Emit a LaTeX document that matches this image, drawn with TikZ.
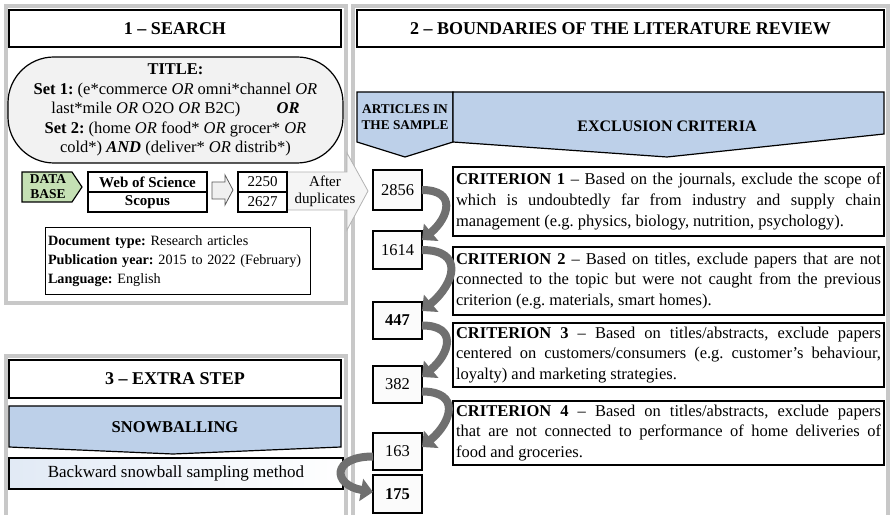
\documentclass[tikz,border=0pt]{standalone}
\usepackage{fontspec}
\setmainfont{Liberation Serif}
\usetikzlibrary{arrows.meta}
\definecolor{bannerblue}{RGB}{189,208,233}
\definecolor{dbgreen}{RGB}{197,224,180}
\definecolor{framegray}{RGB}{200,200,200}
\definecolor{arrgray}{RGB}{112,112,112}
\definecolor{titlegray}{RGB}{242,242,242}
\tolerance=10000
\hbadness=10000
\frenchspacing
\begin{document}
\begin{tikzpicture}[x=1pt,y=1pt]
\tikzset{ >=latex, inner sep=0pt, outer sep=0pt,
  frame/.style={draw=framegray, line width=4pt},
  head/.style={draw, line width=1.8pt, fill=white, minimum height=37, font=\fontsize{18}{21}\selectfont\bfseries},
  numbox/.style={draw, line width=1.4pt, fill=gray!3, minimum width=49, minimum height=37, font=\fontsize{16.5}{20}\selectfont},
  crit/.style={draw, line width=1.6pt, fill=white, text width=425, inner xsep=3, align=justify, font=\fontsize{16.5}{20.7}\selectfont},
  cell/.style={draw, line width=1.2pt, minimum height=20, font=\fontsize{15}{17}\selectfont},
  banner/.style={draw, line width=1.2pt, fill=bannerblue},
  curv/.style={line width=8pt, draw=arrgray, -{Triangle[length=12pt,width=22pt]}},
}
\useasboundingbox (0,0) rectangle (891,514);
%\draw [lightgray, dashed] (0,0) grid [step=50] (891,514);

\draw [frame] (6,211) rectangle (346,508);
\draw [frame] (353,-5) |- (888,508) -- (888,-5);
\draw [frame] (6,-5) |- (346,158) -- (346,-5);

\node [head, minimum width=332] (SEARCH) at (175,485.5) {1 -- SEARCH};
\node [head, minimum width=527] (BOUND) at (620.5,485.5) {2 -- BOUNDARIES OF THE LITERATURE REVIEW};
\node [head, minimum width=332, minimum height=38] (EXTRA) at (175,135) {3 -- EXTRA STEP};

\node [draw, line width=1.2pt, fill=titlegray, rounded corners=46, minimum width=335, minimum height=106,
       align=center, font=\fontsize{16.5}{19.5}\selectfont] (TITLE) at (175.5,404)
  {\textbf{TITLE:}\\
   \textbf{Set 1:} (e*commerce \textit{OR} omni*channel \textit{OR}\\
   last*mile \textit{OR} O2O \textit{OR} B2C)\hspace{2.2em}\textbf{\textit{OR}}\\
   \textbf{Set 2:} (home \textit{OR} food* \textit{OR} grocer* \textit{OR}\\
   cold*) \textbf{\textit{AND}} (deliver* \textit{OR} distrib*)};

\draw [line width=1.2pt, fill=dbgreen] (22,342) -- (72,342) -- (82,327) -- (72,312) -- (22,312) -- cycle;
\node [align=center, font=\fontsize{13.5}{15}\selectfont\bfseries] (DB) at (48,327) {DATA\\BASE};

\node [cell, minimum width=119, font=\fontsize{15}{17}\selectfont\bfseries] (WOS) at (147.5,332) {Web of Science};
\node [cell, minimum width=119, font=\fontsize{15}{17}\selectfont\bfseries] (SCO) at (147.5,312) {Scopus};

\draw [gray!70!black, fill=gray!12, line width=0.8pt] (212,332) -- (225,332) -- (225,339) -- (233,324) -- (225,309) -- (225,315) -- (212,315) -- cycle;
\draw [gray!60, fill=gray!8, line width=0.8pt] (287,342) -- (347,342) -- (347,361) -- (368,323) -- (347,284) -- (347,304) -- (287,304) -- cycle;

\node [cell, minimum width=49, fill=white] (C2250) at (262.5,332) {2250};
\node [cell, minimum width=49, fill=white] (C2627) at (262.5,312) {2627};
\node [align=center, font=\fontsize{15}{17}\selectfont] (AFT) at (325,323) {After\\duplicates};

\node [draw, line width=1pt, fill=white, minimum height=67, text width=259, inner xsep=3, align=left,
       font=\fontsize{14.2}{19}\selectfont] (DOC) at (177.5,252.5)
  {\textbf{Document type:} Research articles\\
   \textbf{Publication year:} 2015 to 2022 (February)\\
   \textbf{Language:} English};

\draw [banner] (357,422) -- (453,422) -- (453,372) -- (405,357) -- (357,372) -- cycle;
\draw [banner] (453,422) -- (884,422) -- (884,380) -- (667,357) -- (453,372) -- cycle;
\node [align=center, font=\fontsize{13.3}{16}\selectfont\bfseries] (ART) at (405,397) {ARTICLES IN\\THE SAMPLE};
\node [font=\fontsize{16}{19}\selectfont\bfseries] (EXC) at (667,388) {EXCLUSION CRITERIA};

\node [numbox, minimum height=40] (N1) at (397.5,324) {2856};
\node [numbox, minimum height=38] (N2) at (397.5,264) {1614};
\node [numbox, font=\fontsize{16.5}{20}\selectfont\bfseries] (N3) at (397.5,193.5) {447};
\node [numbox] (N4) at (397.5,129.5) {382};
\node [numbox] (N5) at (397.5,62.5) {163};
\node [numbox, minimum height=38, font=\fontsize{16.5}{20}\selectfont\bfseries] (N6) at (397.5,20) {175};

\node [crit, minimum height=69] (CR1) at (668.5,312.5)
  {\textbf{CRITERION 1} -- Based on the journals, exclude the scope of\linebreak
   which is undoubtedly far from industry and supply chain\linebreak
   management (e.g. physics, biology, nutrition, psychology).};
\node [crit, minimum height=68] (CR2) at (668.5,233)
  {\textbf{CRITERION 2} -- Based on titles, exclude papers that are not\linebreak
   connected to the topic but were not caught from the previous\linebreak
   criterion (e.g. materials, smart homes).};
\node [crit, minimum height=64] (CR3) at (668.5,159)
  {\textbf{CRITERION 3} -- Based on titles/abstracts, exclude papers\linebreak
   centered on customers/consumers (e.g. customer's behaviour,\linebreak
   loyalty) and marketing strategies.};
\node [crit, minimum height=64] (CR4) at (668.5,81)
  {\textbf{CRITERION 4} -- Based on titles/abstracts, exclude papers\linebreak
   that are not connected to performance of home deliveries of\linebreak
   food and groceries.};

\draw [banner] (9,108) -- (341,108) -- (341,67) -- (173,60) -- (9,67) -- cycle;
\node [font=\fontsize{16.5}{19}\selectfont\bfseries] (SNOW) at (175,87) {SNOWBALLING};
\node [draw, line width=1.2pt, left color=bannerblue!45, right color=white, minimum width=334, minimum height=31,
       font=\fontsize{17}{20}\selectfont] (BACK) at (176,40.5) {Backward snowball sampling method};

\draw [curv] (N1.east) to[out=0, in=40, looseness=1.8] ([yshift=-9]N2.north east);
\draw [curv] (N2.east) to[out=0, in=40, looseness=1.8] ([yshift=-9]N3.north east);
\draw [curv] ([yshift=-5]N3.east) to[out=0, in=40, looseness=1.8] ([yshift=-11]N4.north east);
\draw [curv] ([yshift=-7]N4.east) to[out=0, in=40, looseness=1.8] ([yshift=-14]N5.north east);
\draw [curv] ([yshift=-5]N5.west) to[out=180, in=170, looseness=3] ([yshift=2]N6.west);

\end{tikzpicture}
\end{document}
